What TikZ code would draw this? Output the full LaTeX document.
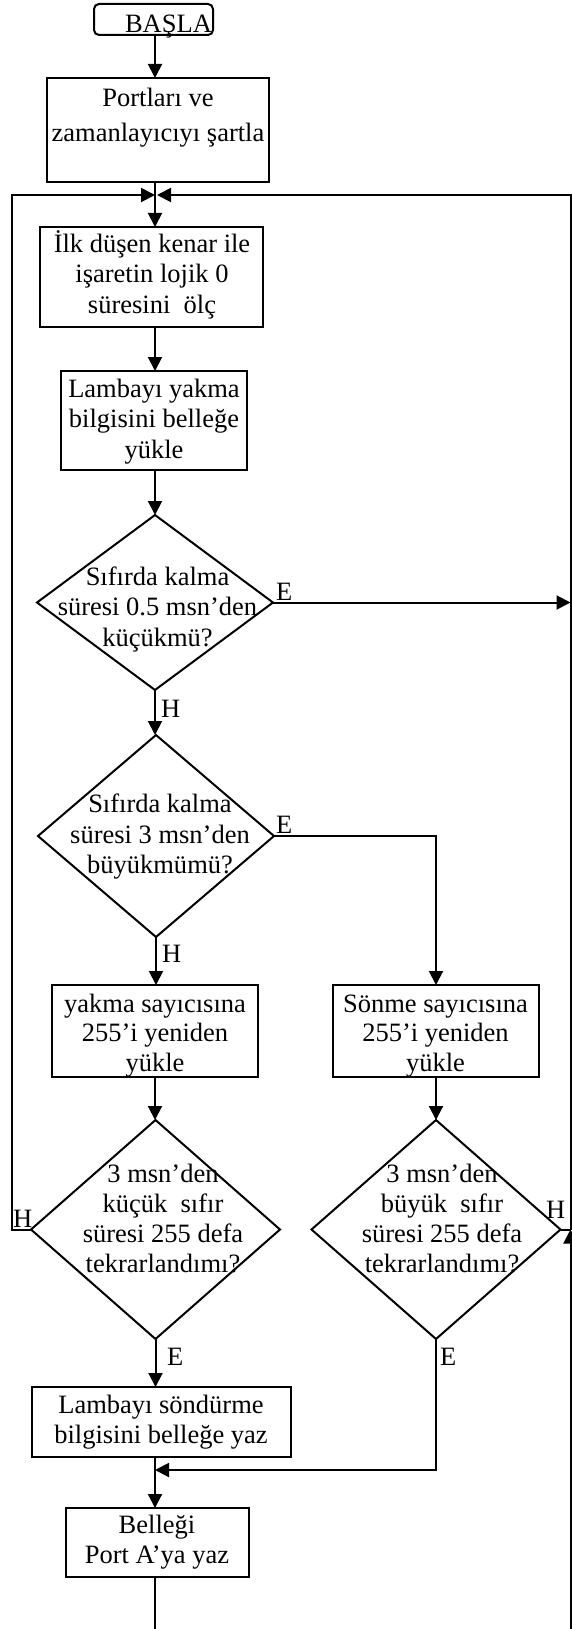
\documentclass[tikz,border=0pt]{standalone}
\usepackage{fontspec}
\setmainfont{Liberation Serif}
\usetikzlibrary{shapes.geometric,arrows.meta}
\newcommand\mlines[1]{\vtop{\halign{\hfil##\hfil\cr#1\crcr}}}
\begin{document}
\begin{tikzpicture}[x=1pt,y=-1pt,
  every node/.style={inner sep=0pt, outer sep=0pt},
  box/.style={draw, line width=2pt, rectangle},
  dia/.style={draw, line width=2pt, diamond},
  txt/.style={anchor=base, font=\fontsize{26.5}{30.5}\selectfont},
  lbl/.style={anchor=base west, font=\fontsize{26.5}{30.5}\selectfont},
  ln/.style={line width=2pt},
  arr/.style={line width=2pt, -{Triangle[length=14pt,width=14pt]}}]
\useasboundingbox (0,0) rectangle (572,1629);

% boxes and decisions
\node[box, rounded corners=5pt, minimum width=119pt, minimum height=31pt] (start) at (153.5,19.5) {};
\node[txt] (startT) at (168.5,33) {BAŞLA};

\node[box, minimum width=222pt, minimum height=104pt] (b1) at (158,130) {};
\node[txt, font=\fontsize{26.5}{35}\selectfont] (b1T) at (158,107) {\mlines{Portları ve\cr zamanlayıcıyı şartla}};

\node[box, minimum width=223pt, minimum height=100pt] (b2) at (151.5,277) {};
\node[txt] (b2T) at (152,252) {\mlines{İlk düşen kenar ile\cr işaretin lojik 0\cr süresini~ ölç}};

\node[box, minimum width=186pt, minimum height=99pt] (b3) at (154,420.5) {};
\node[txt] (b3T) at (154,397) {\mlines{Lambayı yakma\cr bilgisini belleğe\cr yükle}};

\node[dia, minimum width=236pt, minimum height=175pt] (d1) at (155,602.5) {};
\node[txt] (d1T) at (157.5,585) {\mlines{Sıfırda kalma\cr süresi 0.5 msn’den\cr küçükmü?}};

\node[dia, minimum width=236pt, minimum height=202pt] (d2) at (156,836) {};
\node[txt] (d2T) at (160,812.5) {\mlines{Sıfırda kalma\cr süresi 3 msn’den\cr büyükmümü?}};

\node[box, minimum width=206pt, minimum height=92pt] (b4) at (155,1031) {};
\node[txt, font=\fontsize{26.5}{29.5}\selectfont] (b4T) at (155,1012) {\mlines{yakma sayıcısına\cr 255’i yeniden\cr yükle}};

\node[box, minimum width=206pt, minimum height=92pt] (b5) at (436,1031) {};
\node[txt, font=\fontsize{26.5}{29.5}\selectfont] (b5T) at (435.5,1012) {\mlines{Sönme sayıcısına\cr 255’i yeniden\cr yükle}};

\node[dia, minimum width=249pt, minimum height=219pt] (d3) at (155.5,1229.5) {};
\node[txt, font=\fontsize{26.5}{30}\selectfont] (d3T) at (163,1182) {\mlines{3 msn’den\cr küçük~ sıfır\cr süresi 255 defa\cr tekrarlandımı?}};

\node[dia, minimum width=249pt, minimum height=219pt] (d4) at (436,1229.5) {};
\node[txt, font=\fontsize{26.5}{30}\selectfont] (d4T) at (442,1182) {\mlines{3 msn’den\cr büyük~ sıfır\cr süresi 255 defa\cr tekrarlandımı?}};

\node[box, minimum width=259pt, minimum height=70pt] (b6) at (161.5,1422) {};
\node[txt] (b6T) at (161,1413) {\mlines{Lambayı söndürme\cr bilgisini belleğe yaz}};

\node[box, minimum width=183pt, minimum height=69pt] (b7) at (157.5,1542.5) {};
\node[txt, font=\fontsize{26.5}{30}\selectfont] (b7T) at (157,1533) {\mlines{Belleği\cr Port A’ya yaz}};

% helper coordinates
\coordinate (cL) at (155,0);
\coordinate (mL) at (155,195);
\coordinate (mR) at (157,195);
\coordinate (lTop) at (12,195);
\coordinate (lH) at (12,1229.5);
\coordinate (rTop) at (570.5,195);
\coordinate (rE) at (570.5,602.5);
\coordinate (rH) at (570.5,1229.5);
\coordinate (rBot) at (570.5,1629);
\coordinate (bBot) at (155,1629);
\coordinate (jE) at (436,836);
\coordinate (jM) at (436,1470);
\coordinate (mM) at (155,1470);

% connectors
\draw[arr] (start.south -| cL) -- (b1.north -| cL);
\draw[arr] (b1.south -| cL) -- (b2.north -| cL);
\draw[arr] (b2.south -| cL) -- (b3.north -| cL);
\draw[arr] (b3.south -| cL) -- (d1.north);
\draw[arr] (d1.south) -- (d2.north -| d1.south);
\draw[arr] (d1.east) -- (rE);
\draw[arr] (d2.east) -- (jE) -- (b5.north);
\draw[arr] (d2.south) -- (b4.north -| d2.south);
\draw[arr] (b4.south) -- (b4.south |- d3.north);
\draw[arr] (b5.south) -- (b5.south |- d4.north);
\draw[arr] (d3.west) -- (lH) -- (lTop) -- (mL);
\draw[arr] (rBot) -- (rH);
\draw[ln] (d4.east) -- (rH);
\draw[arr] (rH) -- (rTop) -- (mR);
\draw[arr] (d3.south) -- (d3.south |- b6.north);
\draw[arr] (d4.south) -- (jM) -- (mM);
\draw[arr] (b6.south -| cL) -- (b7.north -| cL);
\draw[ln] (b7.south -| cL) -- (bBot);

% branch labels
\node[lbl] (E1) at (276,600) {E};
\node[lbl] (H1) at (161,717) {H};
\node[lbl] (E2) at (276,833) {E};
\node[lbl] (H2) at (162,962) {H};
\node[lbl] (H3) at (13,1227) {H};
\node[lbl] (H4) at (546,1218) {H};
\node[lbl] (E3) at (167,1365) {E};
\node[lbl] (E4) at (440,1365) {E};
\end{tikzpicture}
\end{document}
